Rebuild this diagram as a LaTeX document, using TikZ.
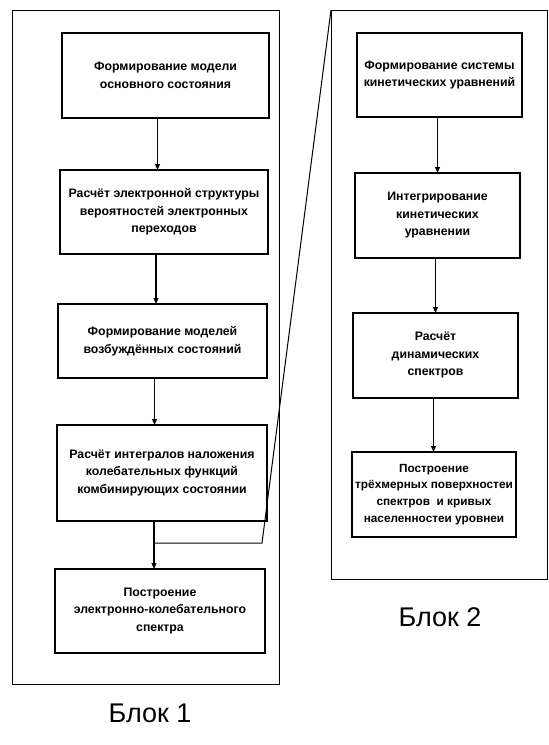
\documentclass[tikz,border=0pt]{standalone}
\usepackage{fontspec}
\setmainfont{Liberation Sans}
\usetikzlibrary{arrows.meta,positioning}
\tikzset{
  base/.style={font=\bfseries\fontsize{12.3}{17.5}\selectfont, align=center, inner sep=1pt, text=black},
  stage/.style={base, rectangle, draw=black, line width=1.2pt, outer sep=0pt},
  frame/.style={rectangle, draw=black, line width=1pt, outer sep=0pt},
  arr/.style={-{Triangle[length=6pt,width=5pt]}, line width=1.1pt, draw=black},
  link/.style={line width=1pt, draw=black},
  blocklabel/.style={font=\fontsize{27}{32}\selectfont, inner sep=0pt},
}
\begin{document}
\begin{tikzpicture}[x=1pt,y=-1pt]
  \useasboundingbox (0,0) rectangle (549,745);
  % outer frames
  \node[frame,minimum width=267pt,minimum height=674pt] (blk1) at (145.5,347) {};
  \node[frame,minimum width=216pt,minimum height=569pt] (blk2) at (439,294.5) {};
  % block 1
  \node[stage,minimum width=207pt,minimum height=85pt] (a1) at (165.5,75.5) {Формирование модели\\основного состояния};
  \node[stage,minimum width=208pt,minimum height=84pt] (a2) at (164,212) {Расчёт электронной структуры\\вероятностей электронных\\переходов};
  \node[stage,minimum width=209pt,minimum height=74pt] (a3) at (162.5,341) {Формирование моделей\\возбуждённых состояний};
  \node[stage,minimum width=210pt,minimum height=96pt] (a4) at (162,473) {Расчёт интегралов наложения\\колебательных функций\\комбинирующих состоянии};
  \node[stage,minimum width=210pt,minimum height=84pt] (a5) at (160,611) {Построение\\электронно-колебательного\\спектра};
  \foreach \a/\b in {a1/a2,a2/a3,a3/a4,a4/a5}{\draw[arr] ([xshift=-8pt]\a.south) -- ([xshift=-8pt]\a.south |- \b.north);}
  % block 2
  \node[stage,minimum width=165pt,minimum height=84pt] (c1) at (439.5,75) {Формирование системы\\кинетических уравнений};
  \node[stage,minimum width=165pt,minimum height=85pt] (c2) at (437.5,215.5) {Интегрирование\\кинетических\\уравнении};
  \node[stage,minimum width=165pt,minimum height=85pt] (c3) at (435.5,355.5) {Расчёт\\динамических\\спектров};
  \node[stage,minimum width=164pt,minimum height=85pt,font=\bfseries\fontsize{11.8}{16.7}\selectfont] (c4) at (434,494.5) {Построение\\трёхмерных поверхностеи\\спектров\ \ и кривых\\населенностеи уровнеи};
  \foreach \a/\b in {c1/c2,c2/c3,c3/c4}{\draw[arr] ([xshift=-2pt]\a.south) -- ([xshift=-2pt]\a.south |- \b.north);}
  % jump to block 2
  \coordinate (j) at (153,543);
  \coordinate (k) at (262,543);
  \draw[link] (j) -- (k) -- (blk2.north west);
  % captions
  \node[blocklabel] (l1) at (150,713) {Блок 1};
  \node[blocklabel] (l2) at (440,617) {Блок 2};
\end{tikzpicture}
\end{document}
